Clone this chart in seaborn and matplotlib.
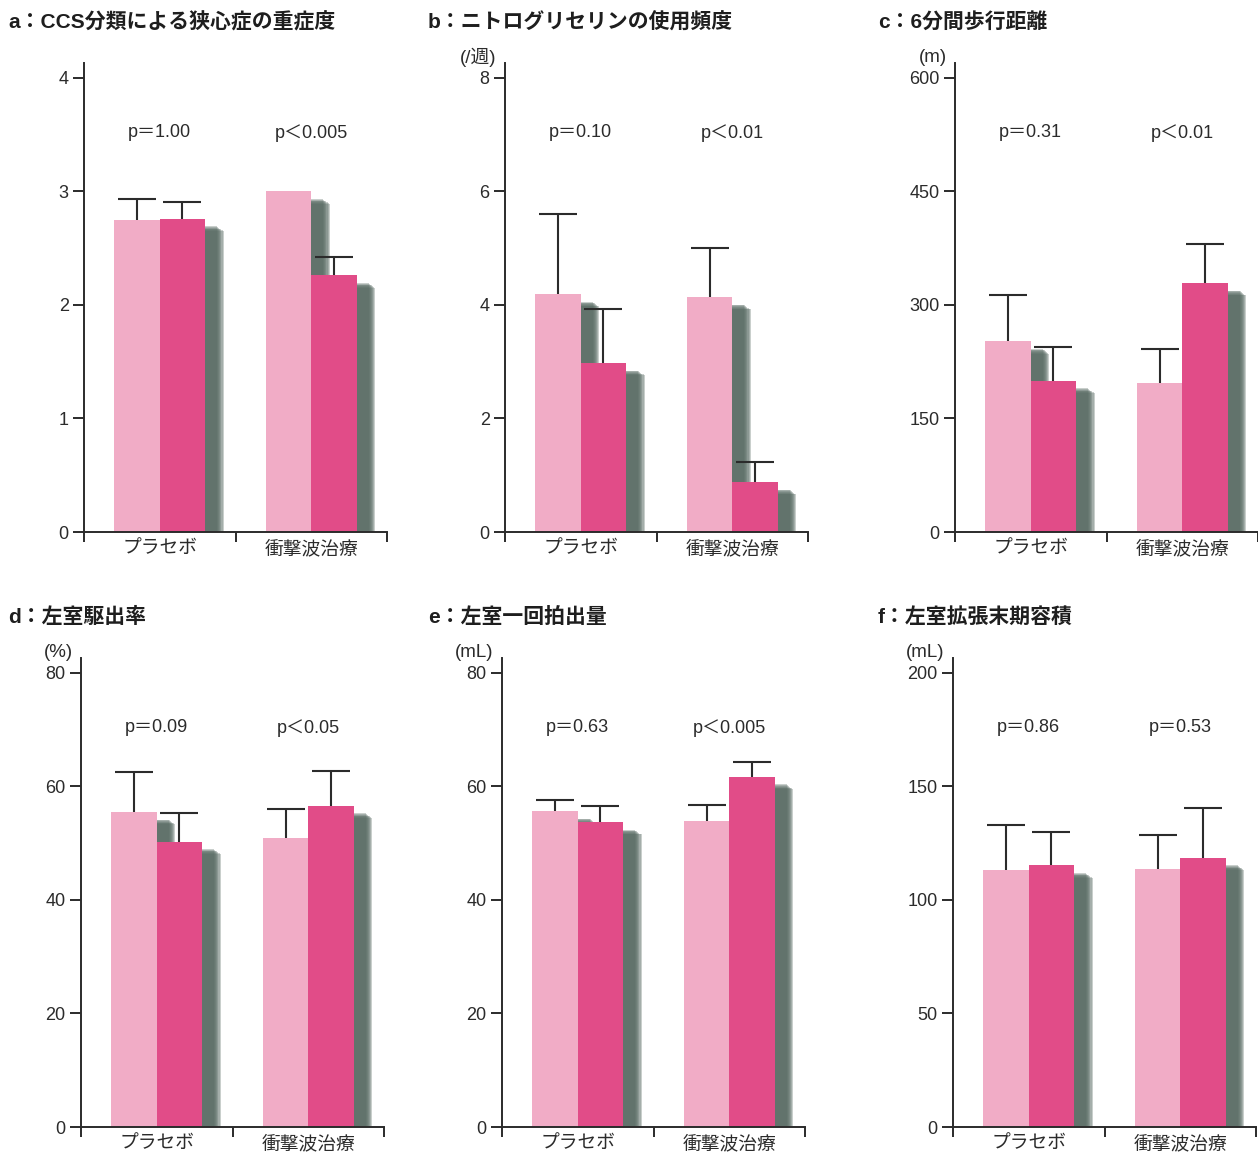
import numpy as np
import pandas as pd
import matplotlib
matplotlib.use("Agg")
import matplotlib.pyplot as plt
import matplotlib.patheffects as pe
import matplotlib.transforms as mtransforms
import seaborn as sns

# Data (pre / post for placebo and shock wave therapy)
groups = ["プラセボ", "衝撃波治療"]
phases = ["治療前", "治療後"]
titles = [
    "a：CCS分類による狭心症の重症度",
    "b：ニトログリセリンの使用頻度",
    "c：6分間歩行距離",
    "d：左室駆出率",
    "e：左室一回拍出量",
    "f：左室拡張末期容積",
]
units = ["", "(/週)", "(m)", "(%)", "(mL)", "(mL)"]
y_max = [4, 8, 600, 80, 80, 200]
y_step = [1, 2, 150, 20, 20, 50]

pre_means = [[2.75, 3.00], [4.19, 4.14], [252, 197], [55.5, 51.0], [55.7, 53.9], [113.3, 113.6]]
post_means = [[2.76, 2.26], [2.98, 0.88], [200, 329], [50.3, 56.6], [53.7, 61.7], [115.2, 118.6]]
pre_sd = [[0.18, 0.0], [1.42, 0.87], [61, 45], [7.0, 5.0], [2.0, 2.9], [19.9, 14.9]]
post_sd = [[0.15, 0.16], [0.95, 0.35], [44, 51], [5.1, 6.1], [2.8, 2.6], [14.8, 22.1]]
p_texts = [
    ["p＝1.00", "p＜0.005"],
    ["p＝0.10", "p＜0.01"],
    ["p＝0.31", "p＜0.01"],
    ["p＝0.09", "p＜0.05"],
    ["p＝0.63", "p＜0.005"],
    ["p＝0.86", "p＝0.53"],
]

light_pink = "#F1ACC6"
dark_pink = "#E14C88"
shadow_col = "#586A63"
ink = "#2b2b2b"

sns.set_style("white")
plt.rcParams["font.family"] = ["Liberation Sans", "Noto Sans CJK JP"]

W, H = 1258, 1155
fig = plt.figure(figsize=(W / 100, H / 100), dpi=100)

# pixel layout of each panel: spine x, spine top, axis bottom
spine_x = [84, 505, 955, 81, 502, 953]
row_top = [63, 63, 63, 658, 658, 658]
row_bottom = [532, 532, 532, 1127, 1127, 1127]
title_xy = [(8, 22), (428, 22), (878, 22), (8, 617), (428, 617), (878, 617)]
axis_w = 303

# soft drop shadow behind every bar
shadow_fx = [
    pe.SimplePatchShadow(offset=(8.5 + 0.8 * k, -5.5 - 0.55 * k), shadow_rgbFace=shadow_col, alpha=0.32)
    for k in range(7)
] + [pe.Normal()]

for i in range(6):
    left = spine_x[i] / W
    bottom = 1 - row_bottom[i] / H
    height = (row_bottom[i] - row_top[i]) / H
    ax = fig.add_axes([left, bottom, axis_w / W, height])

    df = pd.DataFrame({
        "group": groups * 2,
        "phase": [phases[0]] * 2 + [phases[1]] * 2,
        "value": pre_means[i] + post_means[i],
    })
    sns.barplot(data=df, x="group", y="value", hue="phase", order=groups, hue_order=phases,
                palette=[light_pink, dark_pink], width=0.6, gap=0, saturation=1,
                errorbar=None, legend=False, linewidth=0, ax=ax)

    for p in ax.patches:
        p.set_path_effects(shadow_fx)

    xs = np.array([p.get_x() + p.get_width() / 2 for p in ax.patches])
    tops = np.array([p.get_height() for p in ax.patches])
    errs = np.array(pre_sd[i] + post_sd[i], dtype=float)
    keep = errs > 0
    eb = ax.errorbar(xs[keep], tops[keep], yerr=[np.zeros(keep.sum()), errs[keep]], fmt="none",
                     ecolor=ink, elinewidth=1.5, capsize=14, capthick=1.5, zorder=5)
    eb.lines[1][0].set_visible(False)

    ax.set_xlim(-0.5, 1.5)
    ax.set_ylim(0, y_max[i] * 1.033)
    ax.set_yticks(np.arange(0, y_max[i] + y_step[i] / 2, y_step[i]))
    ax.set_xticks([-0.5, 0.5, 1.5])
    ax.set_xticklabels([])
    ax.set_xticks([0, 1], minor=True)
    ax.set_xticklabels(groups, minor=True, fontsize=13.5, color=ink)
    ax.tick_params(axis="x", which="major", direction="out", length=7, width=1.4, color=ink, bottom=True)
    ax.tick_params(axis="x", which="minor", length=0, pad=6, bottom=True)
    ax.tick_params(axis="y", direction="out", length=8, width=1.4, color=ink,
                   labelsize=13, labelcolor=ink, left=True, pad=3)
    ax.set_xlabel("")
    ax.set_ylabel("")
    sns.despine(ax=ax)
    for s in ["left", "bottom"]:
        ax.spines[s].set_linewidth(1.4)
        ax.spines[s].set_color(ink)

    trans = mtransforms.blended_transform_factory(ax.transData, ax.transAxes)
    for j in range(2):
        ax.text(j, 0.851, p_texts[i][j], transform=trans, ha="center", va="center",
                fontsize=13, color=ink)

    if units[i]:
        ax.annotate(units[i], xy=(0, 1), xycoords="axes fraction", xytext=(-6, 4),
                    textcoords="offset points", ha="right", va="center", fontsize=13.5, color=ink)

    tx, ty = title_xy[i]
    fig.text(tx / W, 1 - ty / H, titles[i], ha="left", va="center", fontsize=15,
             fontweight="bold", color="#1e1e1e")

fig.savefig("out.png", dpi=100, facecolor="white")
